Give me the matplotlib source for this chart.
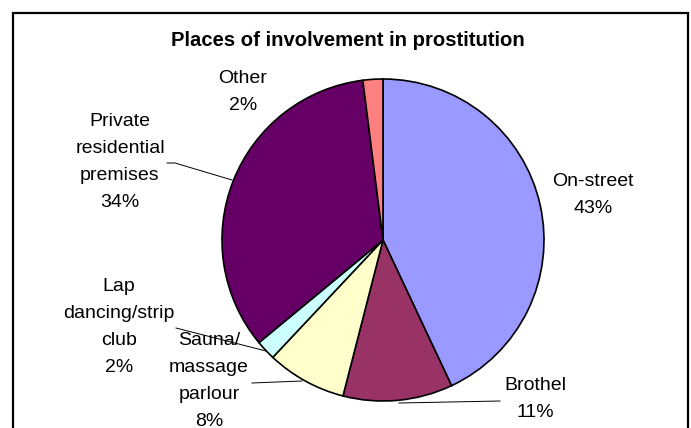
import matplotlib.pyplot as plt
from matplotlib.patches import Rectangle

# data
places = ['On-street', 'Brothel', 'Sauna/\nmassage\nparlour', 'Lap\ndancing/strip\nclub',
          'Private\nresidential\npremises', 'Other']
shares = [43, 11, 8, 2, 34, 2]
colors = ['#9999FF', '#993366', '#FFFFCC', '#CCFFFF', '#660066', '#FF8080']

W, H = 691, 428
plt.rcParams['font.family'] = ['Liberation Sans', 'DejaVu Sans']

fig = plt.figure(figsize=(W / 100, H / 100), dpi=100)
ax = fig.add_axes([0, 0, 1, 1])


def py(y):
    # pixel row (from top) -> data y
    return H - y


# outer chart frame
ax.add_patch(Rectangle((13, py(440)), 675, 440 - 12.5, fill=False, lw=1.6,
                       edgecolor='black'))

ax.text(348, py(40), 'Places of involvement in prostitution', ha='center',
        va='center', fontsize=14.6, fontweight='bold')

ax.pie(shares, colors=colors, startangle=90, counterclock=False,
       center=(383, py(240)), radius=161, frame=True,
       wedgeprops=dict(edgecolor='black', linewidth=1.2))
ax.set_xlim(0, W)
ax.set_ylim(0, H)
ax.set_aspect('auto')
ax.axis('off')

# label placement (pixel centre of each text block)
label_pos = [(593, 195), (535, 399), (209, 381), (119, 327), (120, 162), (243, 92)]
for name, val, (x, y) in zip(places, shares, label_pos):
    ax.text(x, py(y), f'{name}\n{val}%', ha='center', va='center',
            fontsize=14, linespacing=1.76)

# leader lines
leaders = [
    [(167, 163), (175, 163), (232, 180)],
    [(176, 328), (266, 351)],
    [(252, 383), (302, 381)],
    [(399, 403), (500, 401)],
]
for pts in leaders:
    ax.plot([p[0] for p in pts], [py(p[1]) for p in pts], color='black', lw=0.7)

fig.savefig('out.png', dpi=100)
